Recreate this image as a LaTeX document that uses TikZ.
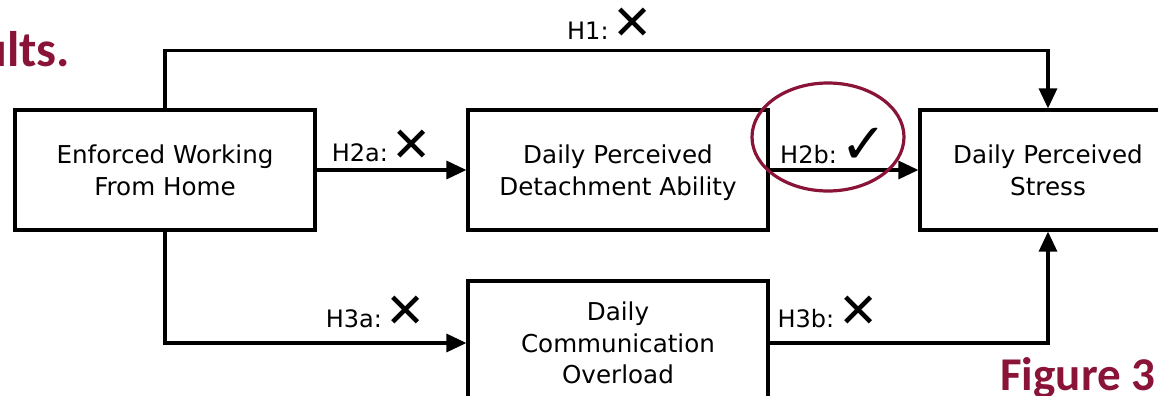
\documentclass[tikz,border=0pt]{standalone}
\usepackage{fontspec}
\setmainfont{DejaVu Sans}
\newfontfamily\headfont{Carlito}
\usepackage{xcolor}
\usetikzlibrary{shapes.geometric, arrows.meta, positioning}
\definecolor{maroon}{RGB}{137,20,56}
\newcommand{\nomark}{\,{\fontsize{24}{24}\selectfont\bfseries ✕}}
\newcommand{\yesmark}{\,{\fontsize{28}{28}\selectfont\bfseries ✓}}

\begin{document}
\begin{tikzpicture}[x=0.5pt, y=-0.5pt, node distance=226.5pt]
\tikzstyle{factor} = [rectangle, minimum width=150pt, minimum height=60pt, text centered, align=center, text depth=0pt, draw=black, line width=1.6pt, font=\fontsize{12.3}{15.8}\selectfont]
\tikzstyle{hyp} = [inner sep=1pt, font=\fontsize{12}{14}\selectfont]
\tikzstyle{arrow} = [line width=1.6pt, -{Triangle[length=10pt, width=9pt]}]
\tikzstyle{heading} = [inner sep=0pt, anchor=base west, text=maroon, font=\headfont\fontsize{25}{30}\selectfont\bfseries]

\useasboundingbox (0,0) rectangle (1158,396);
\clip (0,0) rectangle (1158,396);

\node (home) [factor] at (165,170) {Enforced Working\\From Home};
\node (detach) [factor, right of=home] {Daily Perceived\\Detachment Ability};
\node (stress) [factor, right of=detach, xshift=-11.5pt, minimum width=128pt] {Daily Perceived\\Stress};
\node (overload) [factor, below of=detach, yshift=140pt, minimum height=62pt] {Daily\\Communication\\Overload};

\draw [arrow] (home.north) -- ++(0,-58) -| (stress.north);
\draw [arrow] (home) -- (detach);
\draw [arrow] (detach) -- (stress);
\draw [arrow] (home.south) |- (overload.west);
\draw [arrow] (overload.east) -| (stress.south);

\node (h1) [hyp] at (610,24) {H1:\nomark};
\node (h2a) [hyp] at (382,146) {H2a:\nomark};
\node (h2b) [hyp] at (834,146) {H2b:\yesmark};
\node (h3a) [hyp] at (376,312) {H3a:\nomark};
\node (h3b) [hyp] at (828,312) {H3b:\nomark};

% supported hypothesis
\node (focus) [ellipse, draw=maroon, line width=1.6pt, minimum width=76pt, minimum height=54pt] at (828,137) {};

\node (results) [heading] at (-20,66) {ults.};
\node (figure) [heading, font=\headfont\fontsize{23.5}{28}\selectfont\bfseries] at (1000,390) {Figure 3};
\end{tikzpicture}
\end{document}
